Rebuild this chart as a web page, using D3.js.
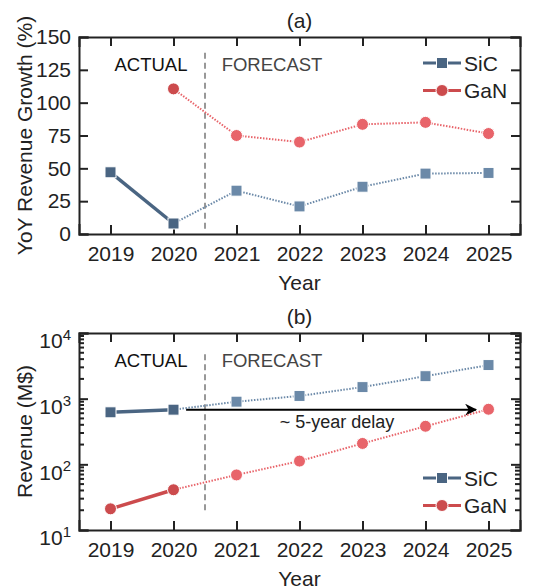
<!DOCTYPE html>
<meta charset="utf-8">
<head>
  <title>SiC vs GaN revenue</title>
</head>
<style>
    body { margin: 0; background: #fff; }
    svg text { font-family: "Liberation Sans", Arial, sans-serif; fill: #222; }
    .axis path, .axis line { stroke: #222; }
    .axis path { stroke-width: 2px; }
    .axis line { stroke-width: 2px; }
    .axis .minor line { stroke-width: 1.5px; }
</style>
<body>
<svg id="chart" width="548" height="588"></svg>
<script src="https://cdn.jsdelivr.net/npm/d3@7"></script>
<script>
    var years = [2019, 2020, 2021, 2022, 2023, 2024, 2025];
    var lastActual = 2020;

    // (a) YoY revenue growth (%)
    var sicGrowth = [47, 8, 33, 21, 36, 46, 46.5];
    var ganGrowth = [null, 110.5, 75, 70, 83.5, 85, 76.5];
    var growthTicks = [0, 25, 50, 75, 100, 125, 150];

    // (b) revenue (M$)
    var sicRevenue = [620, 680, 900, 1100, 1500, 2200, 3250];
    var ganRevenue = [21, 41, 69, 112, 208, 380, 690];
    var revenueTicks = [10, 100, 1000, 10000];

    var arrowFrom = [2020.2, 680], arrowTo = [2024.8, 680];
    var arrowLabel = "~ 5-year delay";

    var colors = {
        sic: { actual: "#4a6582", forecast: "#6b89a8" },
        gan: { actual: "#cc4b4d", forecast: "#e8646a" }
    };

    var svg = d3.select("#chart");
    var left = 79, right = 520;
    var fs = "21px";

    var x = d3.scaleLinear().domain([2018.5, 2025.5]).range([left, right]);

    svg.append("defs").append("marker")
        .attr("id", "arrow")
        .attr("viewBox", "0 0 10 10")
        .attr("refX", 9).attr("refY", 5)
        .attr("markerWidth", 16).attr("markerHeight", 12)
        .attr("markerUnits", "userSpaceOnUse")
        .attr("orient", "auto")
        .append("path")
        .attr("d", "M0,0 L10,5 L0,10 L3,5 Z")
        .attr("fill", "#000");

    function panel(opts) {
        var g = svg.append("g");
        var y = opts.y;
        var top = y.range()[1], bottom = y.range()[0];

        // frame axes with inward ticks
        var xb = g.append("g").attr("class", "axis").attr("transform", "translate(0," + bottom + ")")
            .call(d3.axisBottom(x).tickValues(years).tickSize(-9).tickPadding(12).tickFormat(d3.format("d")));
        xb.selectAll("text").attr("font-size", fs);
        g.append("g").attr("class", "axis").attr("transform", "translate(0," + top + ")")
            .call(d3.axisTop(x).tickValues(years).tickSize(-9).tickFormat(""));

        var yl = g.append("g").attr("class", "axis").attr("transform", "translate(" + left + ",0)")
            .call(d3.axisLeft(y).tickValues(opts.ticks).tickSize(-9).tickPadding(8).tickFormat(opts.fmt));
        yl.selectAll("text").attr("font-size", fs);
        g.append("g").attr("class", "axis").attr("transform", "translate(" + right + ",0)")
            .call(d3.axisRight(y).tickValues(opts.ticks).tickSize(-9).tickFormat(""));

        g.selectAll(".axis path").attr("stroke-linecap", "square");

        if (opts.log) {
            var minor = [];
            for (var e = 1; e < 4; e++) for (var m = 2; m < 10; m++) minor.push(m * Math.pow(10, e));
            [[left, 1], [right, -1]].forEach(function (s) {
                g.append("g").attr("class", "axis minor")
                    .selectAll("line").data(minor).enter().append("line")
                    .attr("x1", s[0]).attr("x2", s[0] + s[1] * 5)
                    .attr("y1", y).attr("y2", y);
            });
            // superscript labels
            yl.selectAll(".tick text").text(null).each(function (d) {
                var t = d3.select(this);
                t.append("tspan").text("10");
                t.append("tspan").attr("dy", "-0.55em").attr("font-size", "15px").text(Math.round(Math.log10(d)));
            }).attr("dy", "0.7em");
        }

        // title
        g.append("text").attr("x", (left + right) / 2).attr("y", top - 9)
            .attr("text-anchor", "middle").attr("font-size", fs).text(opts.title);

        // axis labels
        g.append("text").attr("x", (left + right) / 2).attr("y", bottom + 56)
            .attr("text-anchor", "middle").attr("font-size", fs).text("Year");
        g.append("text")
            .attr("transform", "translate(32," + ((top + bottom) / 2) + ") rotate(-90)")
            .attr("text-anchor", "middle").attr("font-size", fs).text(opts.ylabel);

        // actual / forecast divider
        g.append("line")
            .attr("x1", x(lastActual + 0.5)).attr("x2", x(lastActual + 0.5))
            .attr("y1", y(opts.divider[0])).attr("y2", y(opts.divider[1]))
            .attr("stroke", "#777").attr("stroke-width", 1.5).attr("stroke-dasharray", "6,4");
        g.append("text").attr("x", 151).attr("y", top + 34)
            .attr("text-anchor", "middle").attr("font-size", "18.5px").style("fill", "#111").text("ACTUAL");
        g.append("text").attr("x", 272).attr("y", top + 34)
            .attr("text-anchor", "middle").attr("font-size", "18.5px").style("fill", "#444").text("FORECAST");

        if (opts.extra) opts.extra(g, y);

        // series
        opts.series.forEach(function (s) {
            var pts = years.map(function (yr, i) { return { year: yr, v: s.values[i] }; })
                .filter(function (d) { return d.v != null; });
            var actual = pts.filter(function (d) { return d.year <= lastActual; });
            var forecast = pts.filter(function (d) { return d.year >= lastActual; });
            var line = d3.line().x(function (d) { return x(d.year); }).y(function (d) { return y(d.v); });

            if (actual.length > 1) {
                g.append("path").datum(actual).attr("d", line)
                    .attr("fill", "none").attr("stroke", s.color.actual).attr("stroke-width", 3.5);
            }
            g.append("path").datum(forecast).attr("d", line)
                .attr("fill", "none").attr("stroke", s.color.forecast)
                .attr("stroke-width", 2).attr("stroke-dasharray", "1.5,1.5");

            var mk = g.append("g").selectAll("g").data(pts).enter().append("g")
                .attr("transform", function (d) { return "translate(" + x(d.year) + "," + y(d.v) + ")"; });
            drawMarker(mk, s.shape, function (d) { return d.year <= lastActual ? s.color.actual : s.color.forecast; });
        });

        // legend
        var lg = g.append("g").attr("transform", "translate(0," + opts.legendY + ")");
        opts.series.forEach(function (s, i) {
            var row = lg.append("g").attr("transform", "translate(0," + i * 27.5 + ")");
            row.append("line").attr("x1", 423).attr("x2", 461).attr("y1", 0).attr("y2", 0)
                .attr("stroke", s.color.actual).attr("stroke-width", 3);
            var m = row.append("g").attr("transform", "translate(442,0)");
            drawMarker(m, s.shape, s.color.actual);
            row.append("text").attr("x", 464).attr("y", 7.5).attr("font-size", fs).text(s.name);
        });
    }

    function drawMarker(sel, shape, fill) {
        if (shape === "square") {
            sel.append("rect").attr("x", -5.5).attr("y", -5.5).attr("width", 11).attr("height", 11)
                .attr("fill", fill).attr("stroke", "#fff").attr("stroke-width", 1);
        } else {
            sel.append("circle").attr("r", 6)
                .attr("fill", fill).attr("stroke", "#fff").attr("stroke-width", 1);
        }
    }

    panel({
        title: "(a)",
        ylabel: "YoY Revenue Growth (%)",
        y: d3.scaleLinear().domain([0, 150]).range([234, 37]),
        ticks: growthTicks,
        fmt: d3.format("d"),
        divider: [4, 138],
        legendY: 63,
        series: [
            { name: "SiC", shape: "square", values: sicGrowth, color: colors.sic },
            { name: "GaN", shape: "circle", values: ganGrowth, color: colors.gan }
        ]
    });

    panel({
        title: "(b)",
        ylabel: "Revenue (M$)",
        y: d3.scaleLog().domain([10, 10000]).range([530, 333]),
        ticks: revenueTicks,
        fmt: d3.format("d"),
        log: true,
        divider: [20, 5000],
        legendY: 478,
        series: [
            { name: "SiC", shape: "square", values: sicRevenue, color: colors.sic },
            { name: "GaN", shape: "circle", values: ganRevenue, color: colors.gan }
        ],
        extra: function (g, y) {
            g.append("line")
                .attr("x1", x(arrowFrom[0])).attr("y1", y(arrowFrom[1]))
                .attr("x2", x(arrowTo[0])).attr("y2", y(arrowTo[1]))
                .attr("stroke", "#000").attr("stroke-width", 2)
                .attr("marker-end", "url(#arrow)");
            g.append("text").attr("x", 337).attr("y", y(arrowFrom[1]) + 18)
                .attr("text-anchor", "middle").attr("font-size", "18px").text(arrowLabel);
        }
    });
</script>
</body>
